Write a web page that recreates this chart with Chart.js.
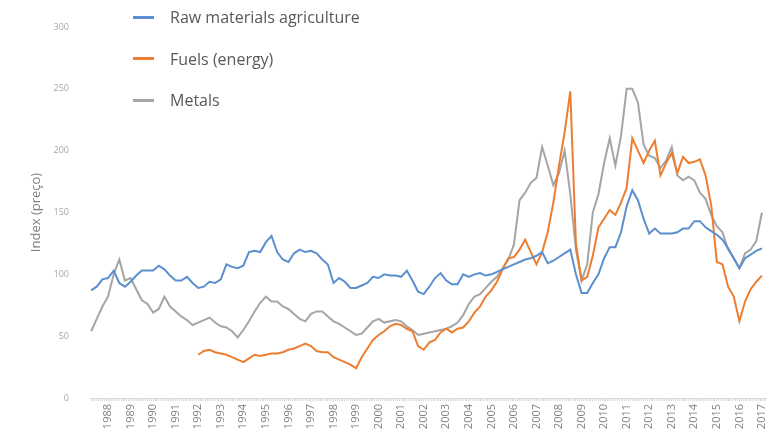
<!DOCTYPE html>
<html>
<head>
<meta charset="utf-8">
<script src="https://cdn.jsdelivr.net/npm/chart.js@4"></script>
<style>
  html, body { margin: 0; padding: 0; background: #fff; }
  #wrap { position: relative; width: 783px; height: 446px; }
  #legend { position: absolute; left: 133px; top: 0; font-family: "Open Sans", sans-serif; font-size: 16px; color: #595959; }
  #legend .item { position: absolute; left: 0; white-space: nowrap; display: flex; align-items: center; height: 22px; }
  #legend .swatch { display: inline-block; width: 21px; height: 3px; margin-right: 16px; }
</style>
</head>
<body>
<div id="wrap">
  <canvas id="commodityChart" width="783" height="446"></canvas>
  <div id="legend"></div>
</div>
<script>
// quarterly points, 1987 Q2 .. 2017 Q1
const quarters = Array.from({length: 120}, (_, i) => 1987.25 + i * 0.25);

const rawAgri = [
  87, 90, 96, 97, 103, 93, 90, 94, 99, 103,
  103, 103, 107, 104, 99, 95, 95, 98, 93, 89,
  90, 94, 93, 96, 108, 106, 105, 107, 118, 119,
  118, 126, 131, 118, 112, 110, 117, 120, 118, 119,
  117, 112, 108, 93, 97, 94, 89, 89, 91, 93,
  98, 97, 100, 99, 99, 98, 103, 95, 86, 84,
  90, 97, 101, 95, 92, 92, 100, 98, 100, 101,
  99, 100, 102, 104, 106, 108, 110, 112, 113, 115,
  118, 109, 111, 114, 117, 120, 100, 85, 85, 93,
  100, 113, 122, 122, 134, 155, 168, 160, 145, 133,
  137, 133, 133, 133, 134, 137, 137, 143, 143, 138,
  135, 132, 128, 121, 113, 105, 113, 116, 119, 121
];

const fuels = Array(19).fill(null).concat([
  35, 38, 39, 37, 36, 35, 33, 31, 29, 32,
  35, 34, 35, 36, 36, 37, 39, 40, 42, 44,
  42, 38, 37, 37, 33, 31, 29, 27, 24, 33,
  40, 47, 51, 54, 58, 60, 59, 56, 54, 42,
  39, 45, 47, 53, 56, 53, 56, 57, 62, 69,
  74, 82, 87, 94, 104, 113, 114, 120, 128, 118,
  108, 118, 134, 158, 188, 215, 248, 125, 95, 98,
  115, 138, 145, 152, 148, 158, 170, 210, 200, 190,
  200, 208, 180, 190, 198, 182, 195, 190, 191, 193,
  180, 156, 110, 108, 90, 82, 62, 78, 88, 94,
  99
]);

const metals = [
  54, 64, 74, 82, 100, 112, 95, 97, 88, 79,
  76, 69, 72, 82, 74, 70, 66, 63, 59, 61,
  63, 65, 61, 58, 57, 54, 49, 55, 62, 70,
  77, 82, 78, 78, 74, 72, 68, 64, 62, 68,
  70, 70, 66, 62, 60, 57, 54, 51, 52, 57,
  62, 64, 61, 62, 63, 62, 58, 55, 51, 52,
  53, 54, 55, 56, 58, 61, 67, 76, 82, 84,
  89, 94, 98, 105, 112, 124, 160, 166, 174, 178,
  203, 188, 172, 182, 200, 165, 120, 95, 108, 150,
  165, 190, 210, 188, 212, 250, 250, 239, 205, 196,
  194, 186, 192, 203, 180, 176, 179, 176, 166, 161,
  148, 139, 134, 120, 113, 105, 117, 120, 127, 150
];

const seriesNames = ['Raw materials agriculture', 'Fuels (energy)', 'Metals'];
const seriesColors = ['#5b8fd0', '#ed7d31', '#a5a5a5'];

const toPoints = vals => vals.map((v, i) => ({x: quarters[i], y: v}));

const ctx = document.getElementById('commodityChart').getContext('2d');
const chart = new Chart(ctx, {
    type: 'line',
    data: {
        datasets: [rawAgri, fuels, metals].map((vals, i) => ({
            label: seriesNames[i],
            data: toPoints(vals),
            borderColor: seriesColors[i],
            backgroundColor: seriesColors[i],
            borderWidth: 2,
            pointRadius: 0,
            tension: 0,
            spanGaps: false
        }))
    },
    options: {
        responsive: false,
        animation: false,
        layout: { padding: { top: 27, right: 17, left: 0, bottom: 0 } },
        plugins: {
            legend: { display: false },
            tooltip: { enabled: false }
        },
        scales: {
            x: {
                type: 'linear',
                min: 1987.2,
                max: 2017.18,
                afterBuildTicks: scale => {
                    // monthly tick marks, labels only on whole years
                    const t = [];
                    for (let m = Math.ceil(scale.min * 12); m <= scale.max * 12; m++) {
                        t.push({value: m / 12});
                    }
                    scale.ticks = t;
                },
                afterFit: scale => { scale.height = 48; },
                border: { display: true, color: '#d9d9d9', width: 1 },
                grid: { drawOnChartArea: false, drawTicks: true, tickLength: 3, color: '#d9d9d9' },
                ticks: {
                    autoSkip: false,
                    minRotation: 90,
                    maxRotation: 90,
                    padding: 3,
                    color: '#808080',
                    font: { family: 'Open Sans', size: 11 },
                    callback: v => (Math.abs(v - Math.round(v)) < 1e-6 ? String(Math.round(v)) : '')
                }
            },
            y: {
                min: 0,
                max: 300,
                afterFit: scale => { scale.width = 90; },
                border: { display: false },
                grid: { display: false },
                ticks: {
                    stepSize: 50,
                    padding: 13,
                    color: '#a6a6a6',
                    font: { family: 'Open Sans', size: 9 }
                },
                title: {
                    display: true,
                    text: 'Index (preço)',
                    color: '#7f7f7f',
                    font: { family: 'Open Sans', size: 13 },
                    padding: { top: 28, bottom: 0 }
                }
            }
        }
    }
});

// legend built from the chart's datasets
const legendEl = document.getElementById('legend');
chart.data.datasets.forEach((ds, i) => {
    const item = document.createElement('div');
    item.className = 'item';
    item.style.top = (6 + i * 41.5) + 'px';
    const sw = document.createElement('span');
    sw.className = 'swatch';
    sw.style.background = ds.borderColor;
    const txt = document.createElement('span');
    txt.textContent = ds.label;
    item.appendChild(sw);
    item.appendChild(txt);
    legendEl.appendChild(item);
});
</script>
</body>
</html>
